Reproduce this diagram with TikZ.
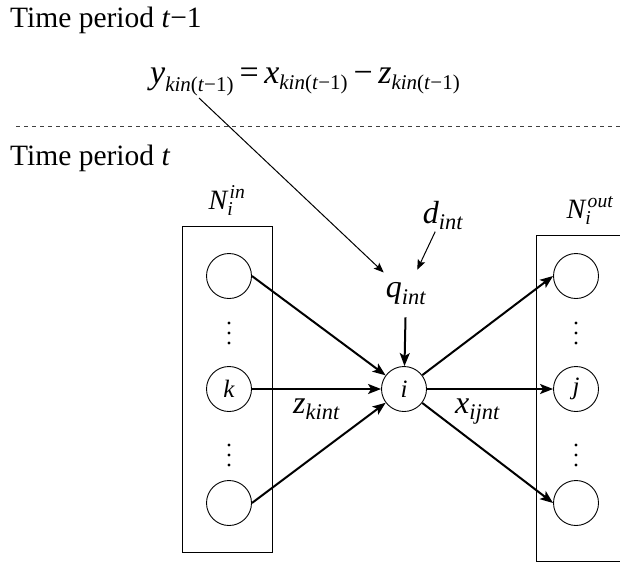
\documentclass[tikz,border=0pt]{standalone}
\usepackage{amsmath}
\usepackage{fontspec}
\setmainfont{Liberation Serif}
\usetikzlibrary{arrows.meta}
\DeclareMathSizes{34}{34}{21}{15}

\newcommand{\tv}[1]{\text{\itshape #1}}
\newcommand{\kt}{\text{\itshape kin\/\upshape(\itshape t\/\upshape−1)}}

\begin{document}
\begin{tikzpicture}[
  x=1pt, y=-1pt,
  vtx/.style={draw, circle, minimum size=45pt, inner sep=0pt, line width=0.9pt,
              font=\fontsize{25}{28}\selectfont\itshape},
  grp/.style={draw, line width=0.9pt, inner sep=0pt},
  lbl/.style={font=\fontsize{32}{36}\selectfont, inner sep=2pt},
  thk/.style={-{Stealth[length=13pt, width=10pt, inset=3pt]}, line width=2pt},
  thn/.style={-{Stealth[length=10pt, width=8pt, inset=2pt]}, line width=1pt}
]
  \useasboundingbox (0,0) rectangle (620,565);

  % time periods
  \node[anchor=base west, font=\fontsize{29.5}{34}\selectfont, inner sep=0pt] (tp1) at (10,27) {Time period \textit{t}−1};
  \node[anchor=base west, font=\fontsize{34}{40}\selectfont, inner sep=0pt] (eq) at (150,83)
    {$\tv{y}_{\kt}\mkern4mu\text{=}\mkern4mu\tv{x}_{\kt}\mkern4mu\text{−}\mkern4mu\tv{z}_{\kt}$};
  \coordinate (ysub) at (199,98);
  \draw[dashed, dash pattern=on 4pt off 4pt, line width=1pt, black!75] (16,126) -- (620,126);
  \node[anchor=base west, font=\fontsize{29.5}{34}\selectfont, inner sep=0pt] (tp) at (10,165) {Time period \textit{t}};

  % in / out groups
  \node[grp, minimum width=90pt, minimum height=326pt] (gin) at (227,389) {};
  \node[grp, minimum width=100pt, minimum height=326pt] (gout) at (586,398) {};
  \node[anchor=base, font=\fontsize{28}{32}\selectfont] (nin) at (227,209) {$\tv{N}_{\tv{i}}^{\mkern2mu\tv{in}}$};
  \node[anchor=base, font=\fontsize{28}{32}\selectfont] (nout) at (590,218) {$\tv{N}_{\tv{i}}^{\mkern2mu\tv{out}}$};

  \node[vtx] (a1) at (229,276) {};
  \node[vtx] (ak) at (229,389) {k};
  \node[vtx] (a2) at (229,503) {};
  \node[vtx] (b1) at (576,276) {};
  \node[vtx] (bj) at (576,389) {j};
  \node[vtx] (b2) at (576,503) {};
  \node[vtx] (i) at (404,389) {i};

  % vertical dots
  \foreach \px in {229,576}
    \foreach \py in {323,333,343,445,455,465}
      \fill (\px,\py) circle (1.6pt);

  % demand and inventory
  \node[lbl, anchor=base, inner ysep=12pt] (q) at (406,297) {$\tv{q}_{\tv{int}}$};
  \node[lbl, anchor=base] (d) at (443,223) {$\tv{d}_{\tv{int}}$};
  \draw[thn] (ysub) -- (q);
  \draw[thn] (d) -- (q);
  \draw[thk] (q) -- (i);

  % flows
  \draw[thk] (a1.east) -- (i);
  \draw[thk] (ak) -- (i);
  \draw[thk] (a2.east) -- (i);
  \draw[thk] (i) -- (b1.west);
  \draw[thk] (i) -- (bj);
  \draw[thk] (i) -- (b2.west);

  \node[lbl, anchor=base west, inner sep=0pt] (z) at (293,413) {$\tv{z}_{\tv{kint}}$};
  \node[lbl, anchor=base west, inner sep=0pt] (x) at (455,413) {$\tv{x}_{\tv{ijnt}}$};
\end{tikzpicture}
\end{document}
